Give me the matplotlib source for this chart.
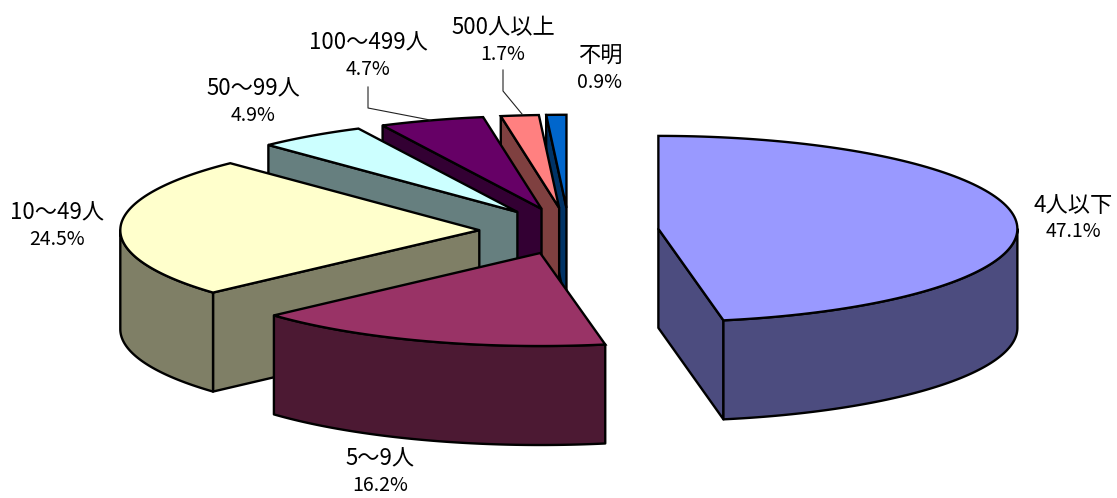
import matplotlib
matplotlib.use("Agg")
import matplotlib.pyplot as plt
import numpy as np

plt.rcParams['font.family'] = ['Noto Sans CJK JP', 'DejaVu Sans']

names = ['4人以下', '5～9人', '10～49人', '50～99人', '100～499人', '500人以上', '不明']
values = [47.1, 16.2, 24.5, 4.9, 4.7, 1.7, 0.9]
top_colors = ['#9999FF', '#993366', '#FFFFCC', '#CCFFFF', '#660066', '#FF8080', '#0066CC']
side_colors = ['#4C4C7F', '#4C1933', '#7F7F66', '#667F7F', '#330033', '#7F4040', '#003366']
label_pos = [(1073, 218), (380, 472), (57, 226), (253, 102), (368, 56), (503, 41), (600, 69)]

# pixel geometry of the projected pie
cx, cy = 569, 231
rx, ry = 359, 93
depth = 99
explode = 0.25


def point(ox, oy, t):
    return ox + rx * np.sin(t), oy - ry * np.cos(t)


def wall(ax, xs, ys, color):
    px = np.concatenate([xs, xs[::-1]])
    py = np.concatenate([ys, ys[::-1] + depth])
    ax.fill(px, py, facecolor=color, edgecolor='black', linewidth=1.7, joinstyle='round')


fig = plt.figure(figsize=(11.17, 4.98), dpi=100)
ax = fig.add_axes([0, 0, 1, 1])
ax.set_xlim(0, 1117)
ax.set_ylim(498, 0)
ax.axis('off')

ends = np.cumsum(values) / np.sum(values) * 2 * np.pi
starts = np.concatenate([[0], ends[:-1]])

# back slices first, the big front ones last
for i in range(len(values) - 1, -1, -1):
    t0, t1 = starts[i], ends[i]
    mid = (t0 + t1) / 2
    ox = cx + explode * rx * np.sin(mid)
    oy = cy - explode * ry * np.cos(mid)
    ts = np.linspace(t0, t1, 120)
    ax_, ay_ = point(ox, oy, ts)

    # cut faces
    if t0 > np.pi:
        ex, ey = point(ox, oy, t0)
        wall(ax, np.array([ox, ex]), np.array([oy, ey]), side_colors[i])
    if t1 < np.pi:
        ex, ey = point(ox, oy, t1)
        wall(ax, np.array([ox, ex]), np.array([oy, ey]), side_colors[i])

    # rim, only the front half of the ellipse shows
    a = max(t0, np.pi / 2)
    b = min(t1, 3 * np.pi / 2)
    if a < b:
        rx_, ry_ = point(ox, oy, np.linspace(a, b, 120))
        wall(ax, rx_, ry_, side_colors[i])

    ax.fill(np.concatenate([[ox], ax_]), np.concatenate([[oy], ay_]),
            facecolor=top_colors[i], edgecolor='black', linewidth=1.7)

# names are wider than the percent lines in the original font
for name, v, (lx, ly) in zip(names, values, label_pos):
    ax.text(lx, ly - 13, name, ha='center', va='center', fontsize=16, color='black')
    ax.text(lx, ly + 13, f'{v}%', ha='center', va='center', fontsize=14, color='black')

# leader lines
ax.plot([368, 368, 430], [87, 108, 120], color='#222222', lw=0.8)
ax.plot([503, 503, 522], [70, 91, 114], color='#222222', lw=0.8)

fig.savefig('out.png', dpi=100)
